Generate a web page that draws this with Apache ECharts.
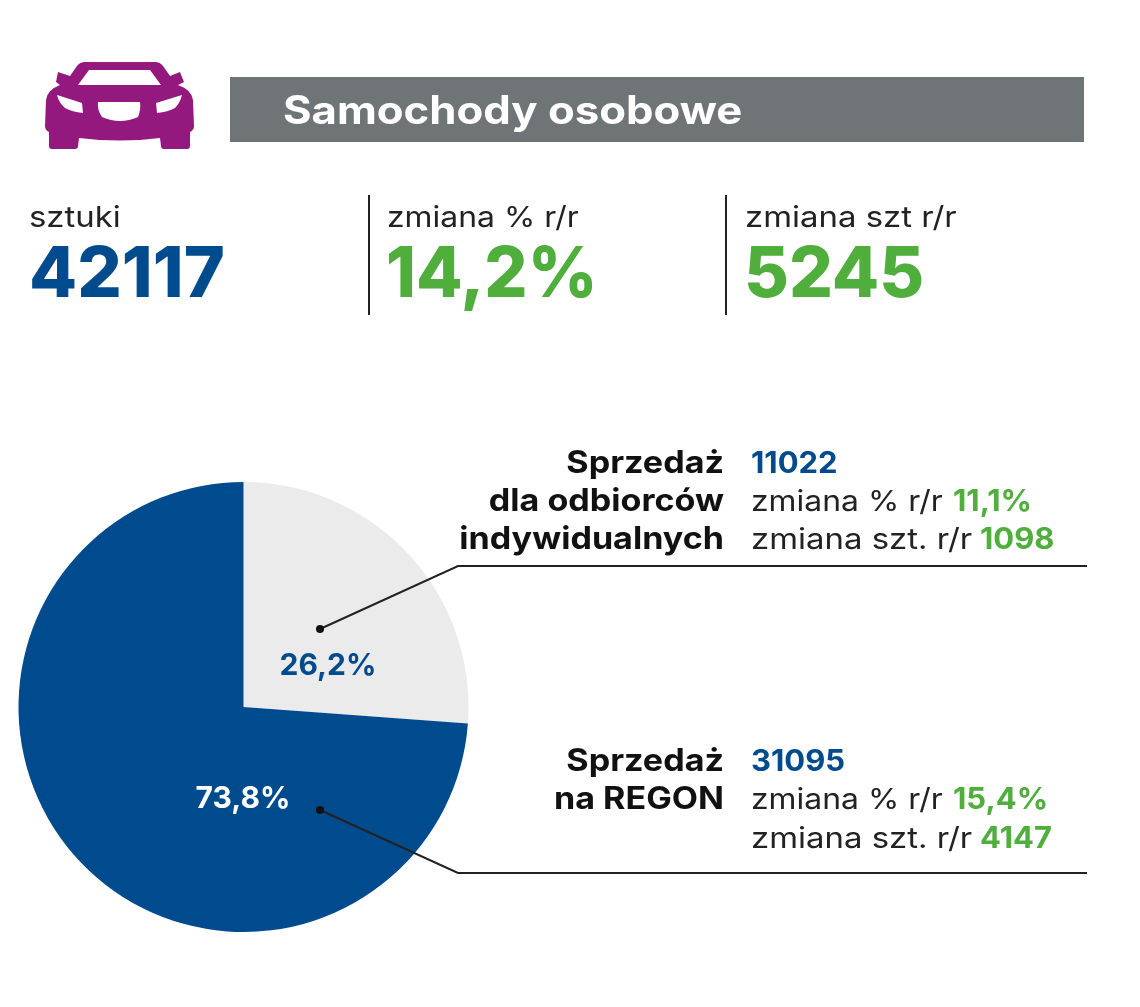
<!DOCTYPE html>
<html><head><meta charset="utf-8">
<style>html,body{margin:0;padding:0;background:#fff}#c{width:1140px;height:1007px}</style>
<script src="https://cdn.jsdelivr.net/npm/echarts@6/dist/echarts.min.js"></script>
</head><body><div id="c"></div>
<script>
const title = 'Samochody osobowe';
const sliceNames = ['Sprzedaż dla odbiorców indywidualnych', 'Sprzedaż na REGON'];
const sliceValues = [11022, 31095];
const sliceLabels = ['26,2%', '73,8%'];
const kpiCaptions = ['sztuki', 'zmiana % r/r', 'zmiana szt r/r'];
const kpiValues = ['42117', '14,2%', '5245'];
const nameLinesA = ['Sprzedaż', 'dla odbiorców', 'indywidualnych'];
const nameLinesB = ['Sprzedaż', 'na REGON'];
const unitsText = ['11022', '31095'];
const pctCaption = 'zmiana % r/r';
const unitCaption = 'zmiana szt. r/r';
const pctChange = ['11,1%', '15,4%'];
const unitChange = ['1098', '4147'];

const BLUE = '#004b8d', GREEN = '#4fae3c', LIGHT = '#ebebeb', GREY = '#6f7477', PURPLE = '#93197f', INK = '#111', TEXT = '#222';
const FONT = 'Inter';
const txt = (x, y, text, size, weight, fill, align, sx) => ({
  type: 'text', x, y, scaleX: sx || 1, silent: true,
  style: { text, fontFamily: FONT, fontSize: size, fontWeight: weight, fill, align: align || 'left', verticalAlign: 'middle' }
});
const CAP = 1.135, CAP_PCT = 1.1, NAME = 1.1, NUM = 1.05;
const cap = (x, y, t, sx) => txt(x, y, t, 29, 400, TEXT, 'left', sx || CAP);
const name = (y, t) => txt(724, y, t, 31, 700, INK, 'right', NAME);
const num = (x, y, t, c) => txt(x, y, t, 29.5, 700, c, 'left', NUM);
const poly = (pts, stroke, w) => ({ type: 'polyline', shape: { points: pts }, silent: true, z: 5, style: { fill: null, stroke, lineWidth: w } });
const dot = (x, y) => ({ type: 'circle', shape: { cx: x, cy: y, r: 4 }, silent: true, z: 5, style: { fill: '#111' } });
let carCount = 0;
const carPath = (d, fill) => {
  const id = 'carPart' + (carCount++);
  echarts.graphic.registerShape(id, echarts.graphic.extendPath(d));
  return { type: id, shape: {}, silent: true, style: { fill } };
};

const graphics = [
  carPath('M85 62L155 62Q160 62 163 66L170 76L180 72L184 82L178 85Q192 90 193 100L194 126Q194 130 190 132L190 146Q190 149 187 149L164 149Q161 149 161 146L160 138Q120 143 79 138L78 146Q78 149 75 149L52 149Q49 149 49 146L49 132Q45 130 45 126L46 100Q47 90 60 85L56 82L58 72L70 76L77 66Q80 62 85 62Z', PURPLE),
  carPath('M89 70L150 70L161 85L78 85Z', '#fff'),
  carPath('M57 95L82 103L83 113Q72 112 65 108Q59 103 57 95Z', '#fff'),
  carPath('M182 95L156 103L157 113Q168 112 175 108Q180 103 182 95Z', '#fff'),
  carPath('M98 102L140 102Q141 110 138 117Q120 125 102 117Q97 110 98 102Z', '#fff'),
  { type: 'rect', shape: { x: 230, y: 77, width: 854, height: 65 }, silent: true, style: { fill: GREY } },
  txt(283, 112, title, 39, 700, '#fff', 'left', 1.12),
  cap(29, 218, kpiCaptions[0]),
  cap(387, 218, kpiCaptions[1], CAP_PCT),
  cap(745, 218, kpiCaptions[2]),
  txt(29, 276, kpiValues[0], 70, 800, BLUE),
  txt(386, 276, kpiValues[1], 70, 800, GREEN, 'left', 0.97),
  txt(744, 276, kpiValues[2], 70, 800, GREEN, 'left', 0.985),
  poly([[369, 195], [369, 315]], TEXT, 2),
  poly([[726, 195], [726, 315]], TEXT, 2),
  name(464, nameLinesA[0]),
  name(502, nameLinesA[1]),
  name(540, nameLinesA[2]),
  num(751, 464, unitsText[0], BLUE),
  cap(751, 502, pctCaption, CAP_PCT),
  cap(751, 540, unitCaption),
  num(953, 502, pctChange[0], GREEN),
  num(980, 540, unitChange[0], GREEN),
  name(762, nameLinesB[0]),
  name(800, nameLinesB[1]),
  num(751, 762, unitsText[1], BLUE),
  cap(751, 800, pctCaption, CAP_PCT),
  cap(751, 839, unitCaption),
  num(953, 800, pctChange[1], GREEN),
  num(980, 839, unitChange[1], GREEN),
  poly([[320, 629], [458, 566], [1087, 566]], TEXT, 2),
  poly([[320, 810], [458, 873], [1087, 873]], TEXT, 2),
  dot(320, 629),
  dot(320, 810)
];

const chart = echarts.init(document.getElementById('c'), null, { renderer: 'canvas' });
chart.setOption({
  animation: false,
  backgroundColor: '#fff',
  series: [{
    type: 'pie',
    center: [243.5, 707],
    radius: [0, 225],
    startAngle: 90,
    clockwise: true,
    silent: true,
    labelLine: { show: false },
    label: { show: true, position: 'inside', fontFamily: FONT, fontSize: 30, fontWeight: 700 },
    labelLayout: (p) => p.dataIndex === 0 ? { x: 328, y: 666, align: 'center', verticalAlign: 'middle' } : { x: 243, y: 799, align: 'center', verticalAlign: 'middle' },
    data: [
      { name: sliceNames[0], value: sliceValues[0], itemStyle: { color: LIGHT }, label: { formatter: sliceLabels[0], color: BLUE } },
      { name: sliceNames[1], value: sliceValues[1], itemStyle: { color: BLUE }, label: { formatter: sliceLabels[1], color: '#fff' } }
    ]
  }],
  graphic: { elements: graphics }
});
</script></body></html>
